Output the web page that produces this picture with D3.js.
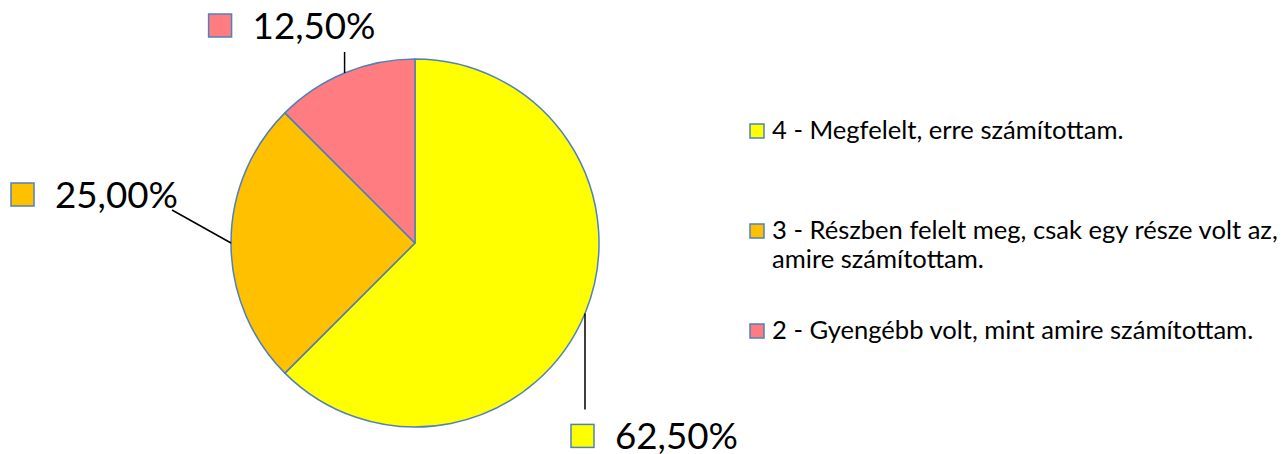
<!DOCTYPE html>
<html>
<head>
<meta charset="utf-8">
<script src="https://cdn.jsdelivr.net/npm/d3@7"></script>
<style>
  html, body { margin: 0; padding: 0; background: #fff; }
  #container { width: 1287px; height: 454px; }
  text { font-family: Lato, "Open Sans", sans-serif; fill: #000; }
</style>
</head>
<body>
<div id="container"></div>
<script>
// chart data
const categories = [
  "4 - Megfelelt, erre számítottam.",
  "3 - Részben felelt meg, csak egy része volt az, amire számítottam.",
  "2 - Gyengébb volt, mint amire számítottam."
];
const values = [62.5, 25.0, 12.5];
const valueLabels = ["62,50%", "25,00%", "12,50%"];
const legendLines = [
  ["4 - Megfelelt, erre számítottam."],
  ["3 - Részben felelt meg, csak egy része volt az,", "amire számítottam."],
  ["2 - Gyengébb volt, mint amire számítottam."]
];
const colors = ["#FFFF00", "#FFC000", "#FF7C80"];

const width = 1287;
const height = 454;
const cx = 415, cy = 243, radius = 184;
const edge = "#4F81BD";

const svg = d3.select("#container")
  .append("svg")
  .attr("width", width)
  .attr("height", height);

// find a font size so that a string is about `target` px wide
function fitSize(str, target, base) {
  const t = svg.append("text").style("font-size", base + "px").text(str);
  const w = t.node().getComputedTextLength();
  t.remove();
  return w > 0 ? base * target / w : base;
}
const labelSize = fitSize("12,50%", 123, 36);
const legendSize = fitSize(legendLines[1][0], 506, 24);

const pie = d3.pie().sort(null).value(d => d);
const arcs = pie(values);
const arc = d3.arc().innerRadius(0).outerRadius(radius);

const g = svg.append("g").attr("transform", `translate(${cx},${cy})`);

g.selectAll("path")
  .data(arcs)
  .enter().append("path")
  .attr("d", arc)
  .attr("fill", (d, i) => colors[i])
  .attr("stroke", edge)
  .attr("stroke-width", 1.5)
  .attr("stroke-linejoin", "round");

// leader lines + data labels (offsets tuned by eye)
const labelLayout = [
  {dx: 0, dy: 96, boxDx: -14, boxDy: 15},     // 62,50%  -> straight down
  {dx: -59, dy: -33, boxDx: -161, boxDy: -27}, // 25,00%
  {dx: 0, dy: -21, boxDx: -136, boxDy: -38}    // 12,50%  -> straight up
];

const pt = a => [radius * Math.sin(a), -radius * Math.cos(a)];

arcs.forEach((d, i) => {
  const mid = (d.startAngle + d.endAngle) / 2;
  const [x0, y0] = pt(mid);
  const L = labelLayout[i];
  const x1 = x0 + L.dx, y1 = y0 + L.dy;

  g.append("line")
    .attr("x1", x0).attr("y1", y0)
    .attr("x2", x1).attr("y2", y1)
    .attr("stroke", "#000")
    .attr("stroke-width", 1.5);

  const bx = x1 + L.boxDx, by = y1 + L.boxDy;
  g.append("rect")
    .attr("x", bx).attr("y", by)
    .attr("width", 23).attr("height", 23)
    .attr("fill", colors[i])
    .attr("stroke", edge)
    .attr("stroke-width", 1.5);

  g.append("text")
    .attr("x", bx + 44)
    .attr("y", by + 25)
    .style("font-size", labelSize + "px")
    .text(valueLabels[i]);
});

// legend
const legend = svg.append("g").attr("transform", "translate(750,0)");
const legendY = d3.scalePoint().domain(categories).range([131, 331]);

categories.forEach((c, i) => {
  const y = legendY(c);
  legend.append("rect")
    .attr("x", 0).attr("y", y - 7)
    .attr("width", 14).attr("height", 14)
    .attr("fill", colors[i])
    .attr("stroke", edge)
    .attr("stroke-width", 1.5);
  legend.append("text")
    .attr("x", 22)
    .attr("y", y + 8)
    .style("font-size", legendSize + "px")
    .selectAll("tspan")
    .data(legendLines[i])
    .enter().append("tspan")
    .attr("x", 22)
    .attr("dy", (t, j) => j === 0 ? 0 : 29)
    .text(t => t);
});
</script>
</body>
</html>
